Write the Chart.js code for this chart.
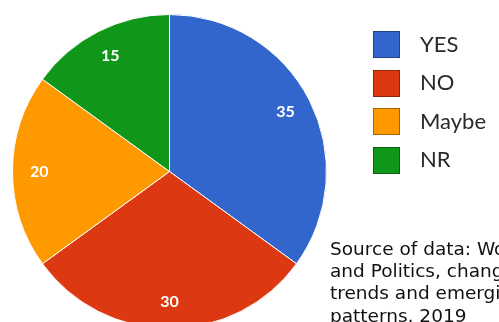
<!DOCTYPE html>
<html>
<head>
<meta charset="utf-8">
<script src="https://cdn.jsdelivr.net/npm/chart.js@4/dist/chart.umd.min.js"></script>
<style>
  html, body { margin: 0; padding: 0; background: #ffffff; width: 499px; height: 322px; overflow: hidden; position: relative; }
  #c { position: absolute; left: 0; top: 0; }
  #legend { position: absolute; left: 373px; top: 31px; margin: 0; padding: 0; list-style: none; }
  #legend li { display: flex; align-items: center; height: 27px; margin-bottom: 11.5px; white-space: nowrap; }
  #legend .sw { width: 25px; height: 25px; border: 1px solid rgba(0,0,0,0.35); box-sizing: content-box; }
  #legend .lb { margin-left: 20px; margin-top: -3px; font-family: "Lato", "Noto Sans", sans-serif; font-size: 22px; color: #2a2a2a; }
  #source { position: absolute; left: 330px; top: 238px; width: 260px; font-family: "DejaVu Sans", sans-serif; font-size: 18.5px; line-height: 22.2px; color: #111; white-space: nowrap; }
  #source div { height: 22.2px; }
</style>
</head>
<body>
<canvas id="c" width="499" height="345"></canvas>
<ul id="legend"></ul>
<div id="source"></div>
<script>
const categories = ["YES", "NO", "Maybe", "NR"];
const values = [35, 30, 20, 15];
const colors = ["#3366cc", "#dc3912", "#ff9900", "#109618"];
const sourceLines = ["Source of data: Women", "and Politics, changing", "trends and emerging", "patterns, 2019"];

const valueLabels = {
  id: 'valueLabels',
  afterDatasetsDraw(chart) {
    const ctx = chart.ctx;
    const meta = chart.getDatasetMeta(0);
    ctx.save();
    ctx.fillStyle = '#ffffff';
    ctx.font = 'bold 16px "Lato", "DejaVu Sans", sans-serif';
    ctx.textAlign = 'center';
    ctx.textBaseline = 'middle';
    meta.data.forEach((arc, i) => {
      const p = arc.getProps(['x', 'y', 'startAngle', 'endAngle', 'outerRadius'], true);
      const mid = (p.startAngle + p.endAngle) / 2;
      const r = p.outerRadius * 0.83;
      ctx.fillText(String(chart.data.datasets[0].data[i]), p.x + Math.cos(mid) * r, p.y + Math.sin(mid) * r);
    });
    ctx.restore();
  }
};

new Chart(document.getElementById('c'), {
  type: 'pie',
  data: {
    labels: categories,
    datasets: [{
      data: values,
      backgroundColor: colors,
      borderColor: '#ffffff',
      borderWidth: 1
    }]
  },
  options: {
    responsive: false,
    animation: false,
    devicePixelRatio: 1,
    layout: { padding: { left: 12, top: 14, right: 172, bottom: 16 } },
    plugins: {
      legend: { display: false },
      tooltip: { enabled: false }
    }
  },
  plugins: [valueLabels]
});

const legend = document.getElementById('legend');
categories.forEach((name, i) => {
  const li = document.createElement('li');
  const sw = document.createElement('span');
  sw.className = 'sw';
  sw.style.background = colors[i];
  const lb = document.createElement('span');
  lb.className = 'lb';
  lb.textContent = name;
  li.appendChild(sw);
  li.appendChild(lb);
  legend.appendChild(li);
});

const source = document.getElementById('source');
sourceLines.forEach(line => {
  const d = document.createElement('div');
  d.textContent = line;
  source.appendChild(d);
});
</script>
</body>
</html>
